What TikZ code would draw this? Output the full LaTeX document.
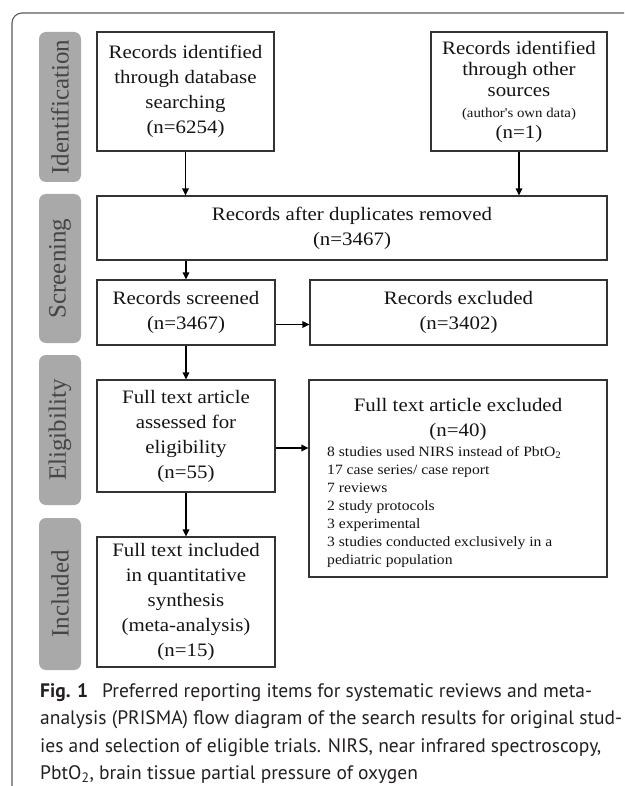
\documentclass[tikz,border=0pt]{standalone}
\usepackage{fontspec}
\usepackage{xcolor}
\usepackage{tikz}
\newfontfamily\boxfont[FakeStretch=1.1]{Liberation Serif}
\newfontfamily\stagefont{Liberation Serif}
\newfontfamily\capfont{PT Sans}
\definecolor{inkdark}{HTML}{141414}
\definecolor{boxline}{HTML}{333333}
\definecolor{stagefill}{HTML}{A9A9A9}
\definecolor{stagetext}{HTML}{454545}
\definecolor{frameline}{HTML}{5A5A5A}
\definecolor{captext}{HTML}{231F20}
\tikzset{
  box/.style={draw=boxline, line width=1.2pt, fill=white, align=center, inner sep=0pt, text=inkdark, font=\boxfont\fontsize{19}{25}\selectfont},
  stage/.style={fill=stagefill, rounded corners=7pt, rotate=90, minimum height=42pt, inner sep=0pt, text=stagetext, font=\stagefont\fontsize{25}{30}\selectfont},
  flow/.style={draw=black, line width=1.4pt, -{Triangle[length=7pt, width=6.5pt]}},
  frame/.style={draw=frameline, line width=1.1pt, rounded corners=10pt},
  lst/.style={align=left, inner sep=0pt, text=inkdark, font=\boxfont\fontsize{14.2}{18}\selectfont},
  captxt/.style={align=left, inner sep=0pt, text=captext, font=\capfont\fontsize{19.5}{27.5}\selectfont},
}
\usetikzlibrary{arrows.meta}

\begin{document}
\begin{tikzpicture}[x=1pt, y=-1pt]

  \useasboundingbox (0,0) rectangle (624,786);
  \draw[frame] (624,13) -- (12,13) -- (12,786);

  \node[stage, minimum width=150pt] (stident) at (60,107) {Identification};
  \node[stage, minimum width=149pt] (stscreen) at (60,268.5) {Screening};
  \node[stage, minimum width=150pt] (stelig) at (60,430) {Eligibility};
  \node[stage, minimum width=152pt] (stincl) at (60,594) {Included};

  \node[box, minimum width=177pt, minimum height=119pt] (dbrec) at (185.5,91.5)
      {Records identified\\through database\\searching\\(n=6254)};
  \node[box, minimum width=176pt, minimum height=119pt, font=\boxfont\fontsize{19}{21}\selectfont] (otherrec) at (519,91.5)
      {Records identified\\through other\\sources\\{\fontsize{13.5}{16}\selectfont (author's own data)}\\(n=1)};
  \node[box, minimum width=510pt, minimum height=64pt] (dedup) at (352,228)
      {Records after duplicates removed\\(n=3467)};
  \node[box, minimum width=178pt, minimum height=65pt] (screened) at (186,312.5)
      {Records screened\\(n=3467)};
  \node[box, minimum width=297pt, minimum height=65pt] (scrnexcl) at (458.5,312.5)
      {Records excluded\\(n=3402)};
  \node[box, minimum width=178pt, minimum height=112pt] (fulltext) at (186,436)
      {Full text article\\assessed for\\eligibility\\(n=55)};
  \node[box, minimum width=298pt, minimum height=197pt] (ftexcl) at (458,478.5) {};
  \node[box, draw=none, fill=none] (ftexcltitle) at (458,419.5)
      {Full text article excluded\\(n=40)};
  \node[lst, anchor=north west] (ftexcllist) at (327,446)
      {8 studies used NIRS instead of PbtO\textsubscript{2}\\17 case series/ case report\\7 reviews\\2 study protocols\\3 experimental\\3 studies conducted exclusively in a\\pediatric population};
  \node[box, minimum width=178pt, minimum height=130pt] (included) at (186,602)
      {Full text included\\in quantitative\\synthesis\\(meta-analysis)\\(n=15)};

  \draw[flow] (dbrec.south) -- (dbrec.south |- dedup.north);
  \draw[flow] (otherrec.south) -- (otherrec.south |- dedup.north);
  \draw[flow] (screened.north |- dedup.south) -- (screened.north);
  \draw[flow] ([yshift=-12pt]screened.east) -- ([yshift=-12pt]screened.east -| scrnexcl.west);
  \draw[flow] (screened.south) -- (fulltext.north);
  \draw[flow] ([yshift=-12pt]fulltext.east) -- ([yshift=-12pt]fulltext.east -| ftexcl.west);
  \draw[flow] (fulltext.south) -- (included.north);

  \node[captxt, anchor=north west] (caption) at (40,683)
      {\textbf{Fig. 1}\hspace{0.45em} Preferred reporting items for systematic reviews and meta-\\analysis (PRISMA) flow diagram of the search results for original stud-\\ies and selection of eligible trials. NIRS, near infrared spectroscopy,\\PbtO\textsubscript{2}, brain tissue partial pressure of oxygen};

\end{tikzpicture}
\end{document}
